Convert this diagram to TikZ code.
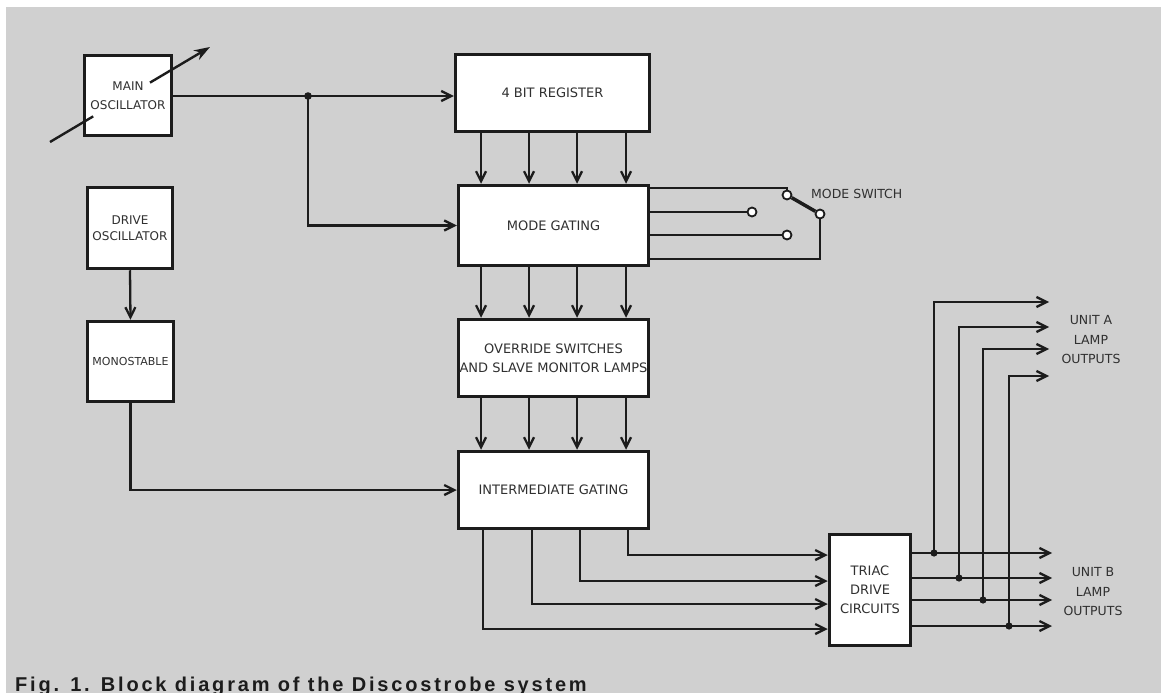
\documentclass[tikz,border=0pt]{standalone}
\usepackage{fontspec}
\usetikzlibrary{arrows.meta,calc}
\newfontfamily\labfont{DejaVu Sans}
\newfontfamily\capfont[LetterSpace=14]{Liberation Sans}
\definecolor{paper}{HTML}{D0D0D0}
\definecolor{ink}{HTML}{1C1C1C}
\definecolor{txt}{HTML}{303030}
\begin{document}
\begin{tikzpicture}[x=1pt,y=-1pt,
  blk/.style={draw=ink, line width=3.5pt, fill=white, inner sep=0pt, align=center, text=txt,
    font=\labfont\fontsize{13}{19}\selectfont},
  lbl/.style={inner sep=0pt, align=center, text=txt, font=\labfont\fontsize{12.5}{19.5}\selectfont},
  wire/.style={draw=ink, line width=2.3pt},
  arr/.style={wire, -{Straight Barb[length=10pt,width=10pt]}},
  contact/.style={circle, draw=ink, fill=white, line width=1.8pt, minimum size=9pt, inner sep=0pt},
  jdot/.style={fill=ink}]
\useasboundingbox (0,0) rectangle (1170,693);
\fill[white] (0,0) rectangle (1170,693);
\fill[paper] (6,7) rectangle (1161,693);

% blocks
\node[blk, minimum width=87pt, minimum height=80pt, font=\labfont\fontsize{12}{19}\selectfont] (mosc) at (128,95.5) {MAIN\\OSCILLATOR};
\node[blk, minimum width=85pt, minimum height=81pt, font=\labfont\fontsize{12}{16}\selectfont] (dosc) at (130,228) {DRIVE\\OSCILLATOR};
\node[blk, minimum width=86pt, minimum height=80pt, font=\labfont\fontsize{11}{16}\selectfont] (mono) at (130.5,361.5) {MONOSTABLE};
\node[blk, minimum width=194pt, minimum height=77pt] (reg) at (552.5,93) {4 BIT REGISTER};
\node[blk, minimum width=190pt, minimum height=80pt] (mode) at (553.5,225.5) {MODE GATING};
\node[blk, minimum width=190pt, minimum height=77pt] (ovr) at (553.5,358) {OVERRIDE SWITCHES\\AND SLAVE MONITOR LAMPS};
\node[blk, minimum width=190pt, minimum height=77pt] (ig) at (553.5,490) {INTERMEDIATE GATING};
\node[blk, minimum width=81pt, minimum height=111pt] (triac) at (870,590) {TRIAC\\DRIVE\\CIRCUITS};

% variable symbol on main oscillator
\coordinate (va) at (50,142);
\coordinate (vb) at (210,47);
\draw[ink, line width=2.4pt] (va) -- ($(va)!0.27!(vb)$);
\draw[ink, line width=2.4pt, -{Stealth[length=16pt,width=11pt]}] ($(va)!0.625!(vb)$) -- (vb);

% main oscillator distribution
\coordinate (j1) at (308,96);
\draw[arr] (mosc.east |- j1) -- (reg.west |- j1);
\draw[arr] (j1) |- (mode.west);
\fill[jdot] (j1) circle (3.8pt);

% drive oscillator chain
\draw[arr] (dosc.south) -- (mono.north);
\draw[arr] (mono.south) |- (ig.west);

% 4-bit buses
\foreach \x in {481,529,577,626} {
  \draw[arr] (\x,0 |- reg.south) -- (\x,0 |- mode.north);
  \draw[arr] (\x,0 |- mode.south) -- (\x,0 |- ovr.north);
  \draw[arr] (\x,0 |- ovr.south) -- (\x,0 |- ig.north);
}

% mode switch
\node[contact] (sw1) at (787,195) {};
\node[contact] (sw2) at (752,212) {};
\node[contact] (sw3) at (787,235) {};
\node[contact] (sw4) at (820,214) {};
\draw[wire] (mode.east |- 0,188) -| (sw1.north);
\draw[wire] (mode.east |- sw2) -- (sw2);
\draw[wire] (mode.east |- sw3) -- (sw3);
\draw[wire] (mode.east |- 0,259) -| (sw4.south);
\draw[ink, line width=3.5pt] (sw1) -- (sw4);
\node[lbl, anchor=west] (mslbl) at (811,194) {MODE SWITCH};

% intermediate gating to triac
\foreach \x/\y in {628/555,580/581,532/604,483/629} {
  \draw[arr] (\x,0 |- ig.south) |- (triac.west |- 0,\y);
}

% triac outputs
\foreach \i/\y/\bx/\ty in {1/553/934/302, 2/578/959/327, 3/600/983/349, 4/626/1009/376} {
  \coordinate (ob\i) at (1052,\y);
  \coordinate (oa\i) at (1049,\ty);
  \coordinate (br\i) at (\bx,\y);
  \draw[arr] (triac.east |- ob\i) -- (ob\i);
  \draw[arr] (br\i) |- (oa\i);
  \fill[jdot] (br\i) circle (3.6pt);
}
\node[lbl] (unitA) at (1091,340) {UNIT A\\LAMP\\OUTPUTS};
\node[lbl] (unitB) at (1093,592) {UNIT B\\LAMP\\OUTPUTS};

% caption
\node[anchor=base west, inner sep=0pt, text=ink, font=\capfont\bfseries\fontsize{20}{23}\selectfont] (cap) at (15,691) {Fig. 1. Block diagram of the Discostrobe system};
\end{tikzpicture}
\end{document}
